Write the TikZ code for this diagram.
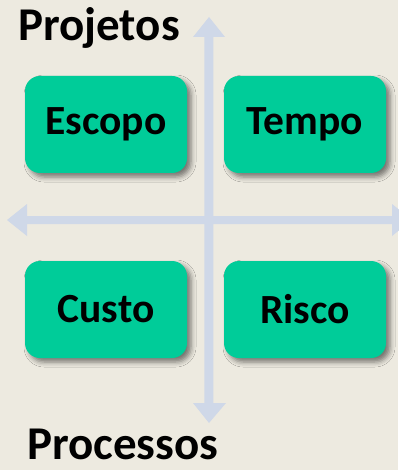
\documentclass[tikz,border=0pt]{standalone}
\usepackage{fontspec}
\setmainfont{Carlito}
\usetikzlibrary{shadows.blur}
\definecolor{bg}{HTML}{EDEAE0}
\definecolor{boxgreen}{HTML}{00CC99}
\definecolor{axis}{HTML}{CFD8E8}
\tikzset{
  quad/.style={fill=boxgreen, rounded corners=15pt, minimum width=162pt, minimum height=97pt,
    inner sep=0pt, font=\fontsize{41.5}{44}\selectfont\bfseries,
    blur shadow={shadow xshift=4pt, shadow yshift=-4pt, shadow blur radius=5pt, shadow opacity=50}},
  title/.style={font=\fontsize{47}{50}\selectfont\bfseries, inner sep=0pt, text depth=0pt, anchor=base west},
  axisarrow/.style={fill=axis}
}
\begin{document}
\begin{tikzpicture}[x=1pt,y=-1pt]
\useasboundingbox[fill=bg] (0,0) rectangle (398,470);
% vertical axis
\fill[axisarrow] (204.3,37) -- (193,37) -- (209,17) -- (225,37) -- (213.3,37)
  -- (213.3,403) -- (226,403) -- (209,423) -- (193,403) -- (204.3,403) -- cycle;
% horizontal axis
\fill[axisarrow] (27,216) -- (27,204) -- (7,220) -- (27,236) -- (27,224)
  -- (392,224) -- (392,236) -- (412,220) -- (392,204) -- (392,216) -- cycle;
\node[quad] (escopo) at (106,124.5) {Escopo};
\node[quad] (tempo) at (305,124.5) {Tempo};
\node[quad] (custo) at (106,309.5) {Custo};
\node[quad] (risco) at (305,309.5) {Risco};
\node[title] (projetos) at (18,41) {Projetos};
\node[title] (processos) at (27,459) {Processos};
\end{tikzpicture}
\end{document}
